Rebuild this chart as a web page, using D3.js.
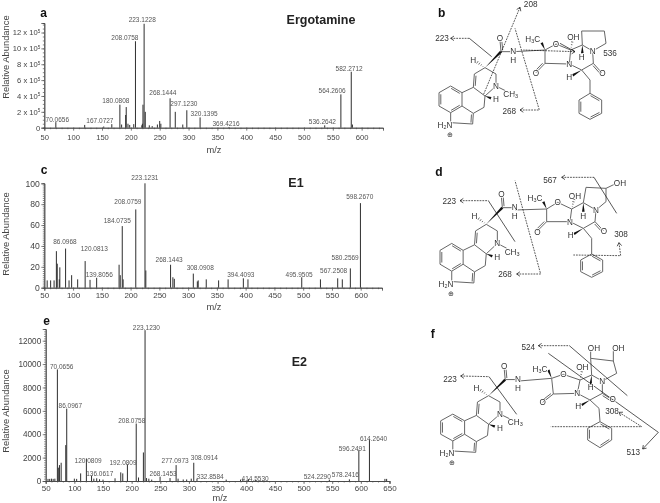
<!DOCTYPE html>
<html>
<head>
<meta charset="utf-8">
<script src="https://cdnjs.cloudflare.com/ajax/libs/d3/7.8.5/d3.min.js"></script>
<style>
  html, body { margin: 0; padding: 0; background: #fff; }
  svg { display: block; filter: blur(0.3px); }
  text { font-family: "Liberation Sans", Arial, sans-serif; }
</style>
</head>
<body>
<svg id="figure" width="660" height="503"></svg>
<script>
// Spectra (a: x 10^5, c: %, e: counts)

const aMz = [70, 120, 153, 167, 181, 184, 191, 192, 195, 198, 205, 208, 219, 220, 221, 223, 225, 232, 237, 246, 250, 252, 268, 277, 290, 297, 320, 370, 536, 564, 582, 584];
const aValues = [0.7, 0.35, 0.15, 0.45, 2.9, 0.4, 1.6, 2.6, 0.5, 0.35, 0.45, 10.9, 0.3, 0.5, 2.9, 13.1, 2.0, 0.3, 0.2, 0.4, 0.85, 0.5, 3.7, 2.0, 0.4, 2.2, 1.3, 0.08, 0.3, 4.2, 7.05, 0.4];
const aYTicks = [0, 2, 4, 6, 8, 10, 12];
const aLabelText = ['223.1228', '208.0758', '582.2712', '564.2606', '268.1444', '297.1230', '180.0808', '320.1395', '70.0656', '167.0727', '369.4216', '536.2642'];
const aLabelMz = [219.7, 189.7, 578.3, 548.8, 255.5, 291.9, 174, 327, 72.5, 146.4, 365, 532];
const aLabelLevel = [13.34, 11.04, 7.09, 4.36, 4.15, 2.77, 3.1, 1.43, 0.76, 0.63, 0.17, 0.5];

const cMz = [55, 61, 67, 71, 72.5, 76, 77, 87, 93, 97.5, 108, 121, 129.5, 141, 180, 182, 185.5, 187, 209, 225, 226.5, 269.5, 273.5, 276, 309, 316, 317.5, 331.5, 353, 369.5, 396, 404, 497.5, 530, 560, 568, 582, 599.5];
const cValues = [7, 7, 7, 35, 23, 8, 19.5, 37.5, 7, 12, 8, 25.5, 7.5, 9.5, 22, 12, 59, 8, 75, 100, 16.5, 22, 10, 8.5, 13.5, 6, 7, 8, 7, 8, 9, 8, 10, 8, 9, 8, 18.5, 81];
const cYTicks = [0, 20, 40, 60, 80, 100];
const cLabelText = ['223.1231', '208.0759', '598.2670', '184.0735', '86.0968', '120.0813', '268.1443', '580.2569', '308.0908', '567.2508', '139.8056', '394.4093', '495.9505'];
const cLabelMz = [224.9, 195.3, 598.3, 176.8, 85.9, 136.9, 267, 573, 321, 553, 145.5, 391.6, 493];
const cLabelLevel = [103.2, 80.2, 84.7, 61.7, 41.9, 35.1, 24.6, 26.2, 16.6, 14.1, 10.2, 10.5, 10.5];

const eMz = [54, 57, 60, 63, 66, 70.4, 72, 74, 77, 85, 86.7, 100, 104, 111, 121, 130, 134, 139, 144, 150, 171, 181, 184.5, 192.6, 208, 212, 220.5, 223.4, 226, 230, 235, 249.6, 267, 277.6, 281, 290, 296, 304, 308.4, 314, 365, 390, 394, 404, 416, 545, 580, 596.5, 615, 642, 645];
const eValues = [180, 180, 200, 180, 200, 9545, 1140, 1360, 1560, 3070, 6190, 200, 180, 650, 1930, 450, 200, 230, 150, 120, 230, 740, 650, 1420, 4915, 300, 2440, 12900, 250, 200, 120, 370, 250, 1360, 200, 130, 130, 200, 1560, 200, 120, 120, 160, 160, 120, 120, 140, 2640, 3550, 180, 180];
const eYTicks = [0, 2000, 4000, 6000, 8000, 10000, 12000];
const eLabelText = ['223.1230', '70.0656', '86.0967', '208.0758', '614.2640', '596.2491', '308.0914', '277.0973', '120.0809', '192.0809', '136.0617', '268.1453', '332.8584', '578.2416', '524.2290', '414.5530'];
const eLabelMz = [225.8, 77.9, 93, 200.2, 622, 585, 327, 275.8, 124, 185, 144.3, 254.9, 337, 573, 524, 415.5];
const eLabelLevel = [12900, 9574, 6222, 5000, 3437, 2585, 1790, 1562, 1534, 1364, 426, 455, 199, 341, 170, 28];

const svg = d3.select('#figure');

/* Spectrum panels */

function drawSpectrum(cfg) {
    let g = svg.append('g');

    let xScale = d3.scaleLinear().domain(cfg.xDomain).range(cfg.xRange);
    let yScale = d3.scaleLinear().domain(cfg.yDomain).range(cfg.yRange);

    let majors = d3.range(50, cfg.xDomain[1] + 1, 50);
    let minors = d3.range(50, cfg.xDomain[1] + 1, 10);

    // minor ticks first, then the labelled axis
    g.append('g')
     .attr('transform', `translate(0, ${cfg.yRange[0]})`)
     .call(d3.axisBottom(xScale).tickValues(minors).tickSize(1.5).tickFormat(''))
    g.append('g')
     .attr('transform', `translate(0, ${cfg.yRange[0]})`)
     .call(d3.axisBottom(xScale).tickValues(majors).tickSize(3).tickPadding(cfg.xPad))

    let yMinorStep = (cfg.yTicks[1] - cfg.yTicks[0]) / cfg.yMinorPerMajor;
    g.append('g')
     .attr('transform', `translate(${cfg.xRange[0]}, 0)`)
     .call(d3.axisLeft(yScale).tickValues(d3.range(0, cfg.yDomain[1], yMinorStep)).tickSize(1.5).tickFormat(''))
    let yAxis = g.append('g')
     .attr('class', 'y-major')
     .attr('transform', `translate(${cfg.xRange[0]}, 0)`)
     .call(d3.axisLeft(yScale).tickValues(cfg.yTicks).tickSize(3).tickPadding(cfg.yPad).tickFormat(cfg.yFormat))

    g.selectAll('.domain').attr('stroke', '#444').attr('stroke-width', 0.8);
    g.selectAll('.tick line').attr('stroke', '#555').attr('stroke-width', 0.7);
    g.selectAll('.tick text').attr('font-family', '"Liberation Sans"').attr('fill', '#444');
    g.selectAll('g:not(.y-major) .tick text').attr('font-size', cfg.xFont);
    yAxis.selectAll('.tick text').attr('font-size', cfg.yFont);

    if (cfg.yPower) {
        // "x 10" ticks take a raised exponent
        yAxis.selectAll('.tick text')
             .filter(d => d !== 0)
             .append('tspan')
             .attr('dy', -2.5)
             .attr('font-size', 4.6)
             .text(cfg.yPower);
    }

    let peaks = d3.zip(cfg.mz, cfg.values);
    g.selectAll('line.peak')
     .data(peaks)
     .join('line')
     .attr('class', 'peak')
     .attr('x1', d => xScale(d[0]))
     .attr('x2', d => xScale(d[0]))
     .attr('y1', yScale(0))
     .attr('y2', d => yScale(d[1]))
     .attr('stroke', '#2e2e2e')
     .attr('stroke-width', 1);

    g.selectAll('text.peak-label')
     .data(d3.zip(cfg.labelText, cfg.labelMz, cfg.labelLevel))
     .join('text')
     .attr('class', 'peak-label')
     .attr('x', d => xScale(d[1]))
     .attr('y', d => yScale(d[2]))
     .attr('text-anchor', 'middle')
     .attr('font-size', 6.5)
     .attr('fill', '#555')
     .text(d => d[0]);

    g.append('text')
     .attr('x', cfg.xTitle[0]).attr('y', cfg.xTitle[1])
     .attr('text-anchor', 'middle').attr('dominant-baseline', 'central')
     .attr('font-size', 9.3).attr('fill', '#444')
     .text('m/z');

    g.append('text')
     .attr('transform', `translate(${cfg.yTitle[0]}, ${cfg.yTitle[1]}) rotate(-90)`)
     .attr('text-anchor', 'middle').attr('dominant-baseline', 'central')
     .attr('font-size', 9.4).attr('fill', '#444')
     .text('Relative Abundance');

    g.append('text')
     .attr('x', cfg.titlePos[0]).attr('y', cfg.titlePos[1])
     .attr('text-anchor', 'middle').attr('dominant-baseline', 'central')
     .attr('font-family', '"Open Sans"').attr('font-weight', 700)
     .attr('font-size', cfg.titleSize).attr('fill', '#222')
     .text(cfg.title);
}

drawSpectrum({
    mz: aMz, values: aValues, yTicks: aYTicks,
    labelText: aLabelText, labelMz: aLabelMz, labelLevel: aLabelLevel,
    xDomain: [50, 637], xRange: [44.3, 383], xPad: 3.5, xFont: 7.6,
    yDomain: [0, 13.2], yRange: [127.7, 23], yMinorPerMajor: 4, yPad: 1, yFont: 7.6,
    yFormat: d => d === 0 ? '0' : `${d} x 10`, yPower: '5',
    xTitle: [214, 150], yTitle: [5.5, 57],
    title: 'Ergotamine', titlePos: [321, 20], titleSize: 12.5
});
drawSpectrum({
    mz: cMz, values: cValues, yTicks: cYTicks,
    labelText: cLabelText, labelMz: cLabelMz, labelLevel: cLabelLevel,
    xDomain: [50, 637], xRange: [44.3, 382], xPad: 2, xFont: 8,
    yDomain: [0, 100], yRange: [287.7, 183.3], yMinorPerMajor: 10, yPad: 1.5, yFont: 8.6,
    yFormat: d => `${d}`,
    xTitle: [214, 306.7], yTitle: [5, 234],
    title: 'E1', titlePos: [296, 182.7], titleSize: 12.5
});
drawSpectrum({
    mz: eMz, values: eValues, yTicks: eYTicks,
    labelText: eLabelText, labelMz: eLabelMz, labelLevel: eLabelLevel,
    xDomain: [50, 650], xRange: [45.7, 389.5], xPad: 1, xFont: 8,
    yDomain: [0, 13000], yRange: [481, 329], yMinorPerMajor: 10, yPad: 1.5, yFont: 8.2,
    yFormat: d => `${d}`,
    xTitle: [220, 498], yTitle: [5, 411],
    title: 'E2', titlePos: [299.3, 361.7], titleSize: 12.5
});

// panel letters
const panelLetters = ['a', 'b', 'c', 'd', 'e', 'f'];
const panelLetterX = [43.7, 441.7, 44, 439, 46.7, 432.7];
const panelLetterY = [12.7, 12.7, 170, 171.7, 320.7, 334.3];

svg.selectAll('text.panel-letter')
   .data(d3.zip(panelLetters, panelLetterX, panelLetterY))
   .join('text')
   .attr('class', 'panel-letter')
   .attr('x', d => d[1]).attr('y', d => d[2])
   .attr('text-anchor', 'middle').attr('dominant-baseline', 'central')
   .attr('font-family', '"Open Sans"').attr('font-weight', 700)
   .attr('font-size', 12).attr('fill', '#111')
   .text(d => d[0]);

/* Structures. Drawing units are 3 per pixel, measured from each panel's own corner */

const ergolineAtoms = {
    a1: [57, 278], a2: [92, 258], a3: [126, 278], a4: [126, 318], a5: [92, 338], a6: [57, 318],
    n1: [92, 368], p1: [158, 372], p2: [160, 340],
    c1: [160, 262], c2: [195, 288], c3: [192, 322],
    d1: [163, 222], d2: [195, 203], d3: [228, 222], n6: [228, 258], me: [256, 272],
    amC: [243, 155], amO: [240, 122], amN: [280, 155], h8: [172, 187], h5: [213, 295]
};
const ergolineBonds = [
    ['a1', 'a2', 's'], ['a2', 'a3', 'd'], ['a3', 'a4', 's'], ['a4', 'a5', 'd'], ['a5', 'a6', 's'], ['a6', 'a1', 'd'],
    ['a3', 'c1', 's'], ['a4', 'p2', 's'], ['c1', 'c2', 's'], ['c2', 'c3', 's'], ['c3', 'p2', 's'],
    ['a5', 'n1', 's'], ['n1', 'p1', 's'], ['p1', 'p2', 'D'],
    ['c1', 'd1', 'd'], ['d1', 'd2', 's'], ['d2', 'd3', 's'], ['d3', 'n6', 's'], ['n6', 'c2', 's'], ['n6', 'me', 's'],
    ['d2', 'amC', 'w'], ['amC', 'amO', 'd'], ['amC', 'amN', 's'], ['d2', 'h8', 'h'], ['c2', 'h5', 'w']
];
const ergolineLabels = [
    ['O', 240, 115], ['N', 280, 152], ['H', 280, 180], ['H', 160, 180], ['N', 228, 258],
    ['CH|3', 272, 282], ['H', 228, 298], ['H|2|N', 75, 375], ['⊕', 90, 402]
];

const peptideBonds = [
    ['Nam', 'Cq', 's'], ['Cq', 'Me', 'w'], ['Cq', 'Ox', 's'], ['Cq', 'Co', 's'], ['Co', 'Oco', 'd'], ['Co', 'Nl', 's'],
    ['Ox', 'Coh', 's'], ['Coh', 'Nl', 's'], ['Coh', 'Oh', 'h'], ['Coh', 'Cj', 's'], ['Cj', 'Hj', 'w'],
    ['Cj', 'Ra', 's'], ['Ra', 'Rb', 's'], ['Rb', 'Rc', 's'], ['Rc', 'Nr', 's'], ['Nr', 'Cj', 's'],
    ['Nr', 'Cc', 's'], ['Cc', 'Oc', 'd'], ['Cc', 'Cb', 's'], ['Cb', 'Nl', 's'], ['Cb', 'Hb', 'w'], ['Cb', 'Ch2', 's'],
    ['Ch2', 'P1', 's'], ['P1', 'P2', 'd'], ['P2', 'P3', 's'], ['P3', 'P4', 'd'], ['P4', 'P5', 's'], ['P5', 'P6', 'd'], ['P6', 'P1', 's']
];

const bAtoms = {
    Nam: [280, 155], Cq: [375, 150], Me: [365, 128], Ox: [408, 132], Co: [375, 190], Oco: [348, 218], Nl: [448, 192],
    Coh: [452, 150], Oh: [458, 118], Cj: [487, 135], Hj: [487, 160], Ra: [485, 93], Rb: [553, 93], Rc: [558, 130], Nr: [518, 153],
    Cc: [520, 190], Oc: [545, 218], Cb: [485, 210], Hb: [458, 226], Ch2: [510, 240],
    P1: [510, 280], P2: [545, 300], P3: [545, 340], P4: [510, 358], P5: [477, 340], P6: [477, 300]
};
const dAtoms = {
    Nam: [285, 150], Cq: [380, 147], Me: [370, 125], Ox: [413, 127], Co: [380, 185], Oco: [352, 213], Nl: [450, 185],
    Coh: [455, 147], Oh: [462, 118], Cj: [490, 128], Hj: [490, 155], Ra: [498, 82], Rb: [558, 85], Rc: [558, 125], Nr: [528, 150],
    Cc: [525, 185], Oc: [550, 212], Cb: [490, 205], Hb: [462, 222], Ch2: [515, 235],
    P1: [515, 282], P2: [548, 300], P3: [548, 335], P4: [515, 352], P5: [482, 335], P6: [482, 300],
    Rs: [585, 72]
};
const fAtoms = {
    Nam: [297, 168], Cq: [395, 160], Me: [385, 135], Ox: [430, 148], Co: [400, 207], Oco: [368, 232], Nl: [472, 205],
    Coh: [480, 165], Oh: [487, 132], Cj: [515, 150], Hj: [512, 178], Ra: [512, 100], Rb: [580, 108], Rc: [590, 145], Nr: [547, 168],
    Cc: [547, 205], Oc: [578, 225], Cb: [510, 225], Hb: [485, 240], Ch2: [537, 250],
    P1: [540, 290], P2: [575, 310], P3: [575, 345], P4: [540, 368], P5: [503, 345], P6: [503, 310],
    Ra2: [512, 78], Rb2: [580, 78]
};

const bLabels = [
    ['H|3|C', 338, 118], ['O', 408, 132], ['O', 348, 218], ['N', 448, 192], ['OH', 460, 112], ['H', 485, 170],
    ['N', 518, 153], ['O', 547, 219], ['H', 448, 230], ['208', 332, 12], ['223', 66, 114], ['268', 268, 332], ['536', 570, 158]
];
const dLabels = [
    ['H|3|C', 345, 115], ['O', 413, 127], ['O', 352, 215], ['N', 450, 185], ['OH', 465, 107], ['H', 490, 168],
    ['N', 528, 150], ['O', 552, 212], ['H', 452, 226], ['OH', 600, 68], ['223', 88, 122], ['268', 255, 341], ['567', 390, 60], ['308', 603, 222]
];
const fLabels = [
    ['H|3|C', 360, 133], ['O', 430, 148], ['O', 368, 232], ['N', 472, 205], ['OH', 487, 127], ['H', 512, 185],
    ['N', 547, 168], ['O', 578, 222], ['H', 475, 243], ['OH', 522, 68], ['OH', 595, 68],
    ['223', 90, 162], ['524', 325, 65], ['308', 576, 258], ['513', 640, 382]
];
const dExtraBonds = [['Rb', 'Rs', 's']];
const fExtraBonds = [['Ra', 'Ra2', 's'], ['Rb', 'Rb2', 's']];

// fragmentation lines: [points, dashed?, ends in an arrow?]
const bCuts = [
    [[[92, 115], [148, 115]], true, true],
    [[[148, 115], [215, 170]], false, false],
    [[[300, 22], [190, 285]], true, true],
    [[[300, 330], [358, 330], [285, 85]], true, true],
    [[[465, 155], [310, 150]], true, true],
    [[[420, 130], [465, 155]], false, false]
];
const dCuts = [
    [[[120, 122], [205, 122]], true, true],
    [[[205, 122], [285, 245]], false, false],
    [[[290, 342], [362, 342], [285, 62]], true, true],
    [[[425, 52], [522, 52]], true, true],
    [[[522, 52], [590, 160]], false, false],
    [[[597, 248], [602, 287], [460, 285]], true, true]
];
const fCuts = [
    [[[122, 153], [207, 155]], true, true],
    [[[207, 155], [290, 268]], false, false],
    [[[355, 62], [448, 62]], true, true],
    [[[448, 62], [622, 212]], false, false],
    [[[668, 372], [715, 322], [385, 85]], false, true],
    [[[597, 262], [665, 305], [392, 305]], true, true]
];

function drawBonds(g, atoms, bonds, sx, sy) {
    let pos = name => [sx(atoms[name][0]), sy(atoms[name][1])];

    bonds.forEach(bond => {
        let p = pos(bond[0]), q = pos(bond[1]), kind = bond[2];
        let dx = q[0] - p[0], dy = q[1] - p[1], len = Math.hypot(dx, dy);
        let nx = -dy / len, ny = dx / len;

        if (kind === 'w') {
            g.append('path')
             .attr('d', d3.line()([p, [q[0] + nx * 1.3, q[1] + ny * 1.3], [q[0] - nx * 1.3, q[1] - ny * 1.3]]))
             .attr('fill', '#111');
            return;
        }
        if (kind === 'h') {
            d3.range(1, 5).forEach(i => {
                let t = i / 4, w = 1.5 * t;
                g.append('line')
                 .attr('x1', p[0] + dx * t + nx * w).attr('y1', p[1] + dy * t + ny * w)
                 .attr('x2', p[0] + dx * t - nx * w).attr('y2', p[1] + dy * t - ny * w)
                 .attr('stroke', '#333').attr('stroke-width', 0.7);
            });
            return;
        }

        g.append('line')
         .attr('x1', p[0]).attr('y1', p[1]).attr('x2', q[0]).attr('y2', q[1])
         .attr('stroke', '#666').attr('stroke-width', 1);

        if (kind === 'd' || kind === 'D') {
            // second stroke of a double bond, on the ring side
            let side = kind === 'd' ? 1.8 : -1.8;
            g.append('line')
             .attr('x1', p[0] + dx * 0.12 + nx * side).attr('y1', p[1] + dy * 0.12 + ny * side)
             .attr('x2', p[0] + dx * 0.88 + nx * side).attr('y2', p[1] + dy * 0.88 + ny * side)
             .attr('stroke', '#666').attr('stroke-width', 1);
        }
    });
}

function drawCuts(g, cuts, sx, sy) {
    cuts.forEach(cut => {
        let pts = cut[0].map(d => [sx(d[0]), sy(d[1])]);
        g.append('path')
         .attr('d', d3.line()(pts))
         .attr('fill', 'none')
         .attr('stroke', '#111')
         .attr('stroke-width', 0.7)
         .attr('stroke-dasharray', cut[1] ? '1.8 1' : null);

        if (cut[2]) {
            let tip = pts[0], next = pts[1];
            let a = Math.atan2(next[1] - tip[1], next[0] - tip[0]);
            let head = [
                [tip[0] + 4 * Math.cos(a - 0.6), tip[1] + 4 * Math.sin(a - 0.6)],
                tip,
                [tip[0] + 4 * Math.cos(a + 0.6), tip[1] + 4 * Math.sin(a + 0.6)]
            ];
            g.append('path')
             .attr('d', d3.line()(head))
             .attr('fill', 'none')
             .attr('stroke', '#111')
             .attr('stroke-width', 0.7);
        }
    });
}

function drawLabels(g, labels, sx, sy) {
    labels.forEach(l => {
        // "H|3|C" marks a subscript between the bars
        let parts = l[0].split('|');
        let t = g.append('text')
                 .attr('x', sx(l[1])).attr('y', sy(l[2]))
                 .attr('text-anchor', 'middle').attr('dominant-baseline', 'central')
                 .attr('font-size', 8.2).attr('fill', '#333')
                 .attr('stroke', '#fff').attr('stroke-width', 1.6).attr('paint-order', 'stroke');
        if (l[0] === '⊕') t.attr('font-family', '"DejaVu Sans"').attr('font-size', 7);
        parts.forEach((part, i) => {
            let span = t.append('tspan').text(part);
            if (i === 1) span.attr('font-size', 5.5).attr('dy', 2);
            if (i === 2) span.attr('dy', -2);
        });
    });
}

function drawStructure(cfg) {
    let g = svg.append('g');

    // page scales for the panel, and for the ergoline part shared by all three
    let pageX = d3.scaleLinear().domain([0, 240]).range([cfg.corner[0], cfg.corner[0] + 80]);
    let pageY = d3.scaleLinear().domain([0, 240]).range([cfg.corner[1], cfg.corner[1] + 80]);
    let ergoX = d3.scaleLinear().domain([57, 228]).range(cfg.ergoX);
    let ergoY = d3.scaleLinear().domain([203, 375]).range(cfg.ergoY);
    let fitX = d => pageX(ergoX(d));
    let fitY = d => pageY(ergoY(d));

    drawBonds(g, ergolineAtoms, ergolineBonds, fitX, fitY);
    drawBonds(g, cfg.atoms, peptideBonds.concat(cfg.extraBonds), pageX, pageY);
    drawCuts(g, cfg.cuts, pageX, pageY);
    drawLabels(g, ergolineLabels, fitX, fitY);
    drawLabels(g, cfg.labels, pageX, pageY);
}

drawStructure({ corner: [420, 0], ergoX: [57, 228], ergoY: [203, 375], atoms: bAtoms, extraBonds: [], cuts: bCuts, labels: bLabels });
drawStructure({ corner: [420, 160], ergoX: [60, 232], ergoY: [193, 372], atoms: dAtoms, extraBonds: dExtraBonds, cuts: dCuts, labels: dLabels });
drawStructure({ corner: [420, 325], ergoX: [62, 240], ergoY: [212, 385], atoms: fAtoms, extraBonds: fExtraBonds, cuts: fCuts, labels: fLabels });
</script>
</body>
</html>
